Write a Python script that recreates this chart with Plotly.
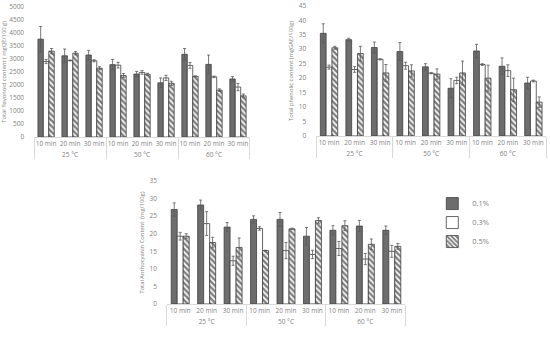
import plotly.graph_objects as go

temps = ["25 °C", "50 °C", "60 °C"]
times = ["10 min", "20 min", "30 min"]
series_names = ["0.1%", "0.3%", "0.5%"]

# Total flavonoid content (mgQE/100 g)
flav_01 = [3760, 3120, 3150, 2780, 2420, 2080, 3180, 2790, 2230]
flav_03 = [2900, 2940, 2930, 2760, 2480, 2270, 2750, 2310, 1920]
flav_05 = [3300, 3220, 2640, 2360, 2410, 2060, 2330, 1800, 1580]
flav_01_err = [490, 260, 180, 200, 100, 190, 220, 360, 90]
flav_03_err = [80, 20, 40, 110, 70, 100, 110, 30, 140]
flav_05_err = [100, 60, 60, 80, 40, 80, 20, 50, 70]

# Total phenolic content (mgGAE/100g)
phen_01 = [35.5, 33.3, 30.6, 29.2, 23.9, 16.5, 29.4, 24.1, 18.3]
phen_03 = [23.8, 23.0, 26.5, 24.3, 21.7, 19.2, 24.7, 22.6, 19.0]
phen_05 = [30.5, 28.5, 21.8, 22.5, 21.4, 21.8, 20.0, 16.0, 11.7]
phen_01_err = [3.3, 0.5, 1.9, 3.1, 1.1, 3.3, 2.3, 2.9, 2.0]
phen_03_err = [0.7, 1.0, 0.2, 1.2, 0.2, 1.1, 0.3, 2.0, 0.3]
phen_05_err = [0.5, 2.5, 2.9, 2.1, 1.8, 4.1, 4.5, 4.0, 1.8]

# Total Anthocyanin Content (mg/100g)
anth_01 = [26.9, 28.2, 21.9, 24.1, 24.1, 19.3, 21.0, 22.2, 21.0]
anth_03 = [19.3, 22.9, 12.3, 21.5, 15.2, 14.1, 15.8, 12.8, 15.0]
anth_05 = [19.3, 17.5, 16.1, 15.2, 21.4, 23.8, 22.3, 17.0, 16.4]
anth_01_err = [1.9, 1.4, 1.3, 1.0, 2.0, 2.5, 1.3, 1.6, 1.2]
anth_03_err = [1.1, 3.4, 1.3, 0.5, 2.3, 1.2, 2.0, 1.6, 1.7]
anth_05_err = [0.7, 1.5, 2.7, 0.1, 0.2, 0.8, 1.4, 1.5, 0.8]

x_outer = [t for t in temps for _ in times]
x_inner = [m for _ in temps for m in times]
xcat = [x_outer, x_inner]

FONT = "Open Sans"
GRAY = "#7f7f7f"
EDGE = "#404040"

styles = [
    dict(color="#6d6d6d", line=dict(color=EDGE, width=0.8)),
    dict(color="white", line=dict(color=EDGE, width=0.8)),
    dict(color="white", line=dict(color=EDGE, width=0.8),
         pattern=dict(shape="\\", fgcolor="black", bgcolor="white", size=4, solidity=0.6)),
]

fig = go.Figure()

panels = [
    ("x", "y", [flav_01, flav_03, flav_05], [flav_01_err, flav_03_err, flav_05_err], False),
    ("x2", "y2", [phen_01, phen_03, phen_05], [phen_01_err, phen_03_err, phen_05_err], False),
    ("x3", "y3", [anth_01, anth_03, anth_05], [anth_01_err, anth_03_err, anth_05_err], True),
]

for xa, ya, vals, errs, show in panels:
    for i in range(3):
        fig.add_trace(go.Bar(
            x=xcat, y=vals[i], name=series_names[i], xaxis=xa, yaxis=ya,
            marker=styles[i], showlegend=show,
            error_y=dict(type="data", array=errs[i], visible=True,
                         color="#595959", thickness=0.8, width=1.5),
        ))

xcommon = dict(type="multicategory", showgrid=False, showline=True, linecolor="#d9d9d9",
               linewidth=1, dividercolor="#d9d9d9", dividerwidth=1, ticks="",
               tickangle=0, automargin=False,
               tickfont=dict(size=6.5, color=GRAY, family=FONT))
ycommon = dict(showgrid=False, zeroline=False, showline=False, ticks="", automargin=False,
               tickfont=dict(size=6.5, color=GRAY, family=FONT), ticklabelstandoff=9)
tfont = dict(size=5.8, color=GRAY, family=FONT)

fig.update_layout(
    width=550, height=345, autosize=False,
    margin=dict(l=0, r=0, t=0, b=0),
    paper_bgcolor="white", plot_bgcolor="white",
    barmode="group", bargap=0.32, bargroupgap=0,
    font=dict(family=FONT, color=GRAY, size=7),
    xaxis=dict(domain=[0.062, 0.4545], anchor="y", **xcommon),
    yaxis=dict(domain=[0.603, 0.980], anchor="x", range=[0, 5000], dtick=500,
               title=dict(text="Total flavonoid content ( mgQE/100 g)", font=tfont, standoff=4),
               **ycommon),
    xaxis2=dict(domain=[0.575, 0.993], anchor="y2", **xcommon),
    yaxis2=dict(domain=[0.606, 0.983], anchor="x2", range=[0, 45], dtick=5,
                title=dict(text="Total phenolic content (mgGAE/100g)", font=tfont, standoff=4),
                **ycommon),
    xaxis3=dict(domain=[0.3036, 0.7364], anchor="y3", **xcommon),
    yaxis3=dict(domain=[0.119, 0.475], anchor="x3", range=[0, 35], dtick=5,
                title=dict(text="Total Anthocyanin Content  (mg/100g)", font=tfont, standoff=4),
                **ycommon),
    legend=dict(x=0.786, y=0.452, xanchor="left", yanchor="top",
                font=dict(size=7.5, color=GRAY, family=FONT),
                itemwidth=30, tracegroupgap=0, bgcolor="rgba(0,0,0,0)"),
)

fig.write_html("out.html", config={"displayModeBar": False},
               post_script="document.body.style.margin='0';")
